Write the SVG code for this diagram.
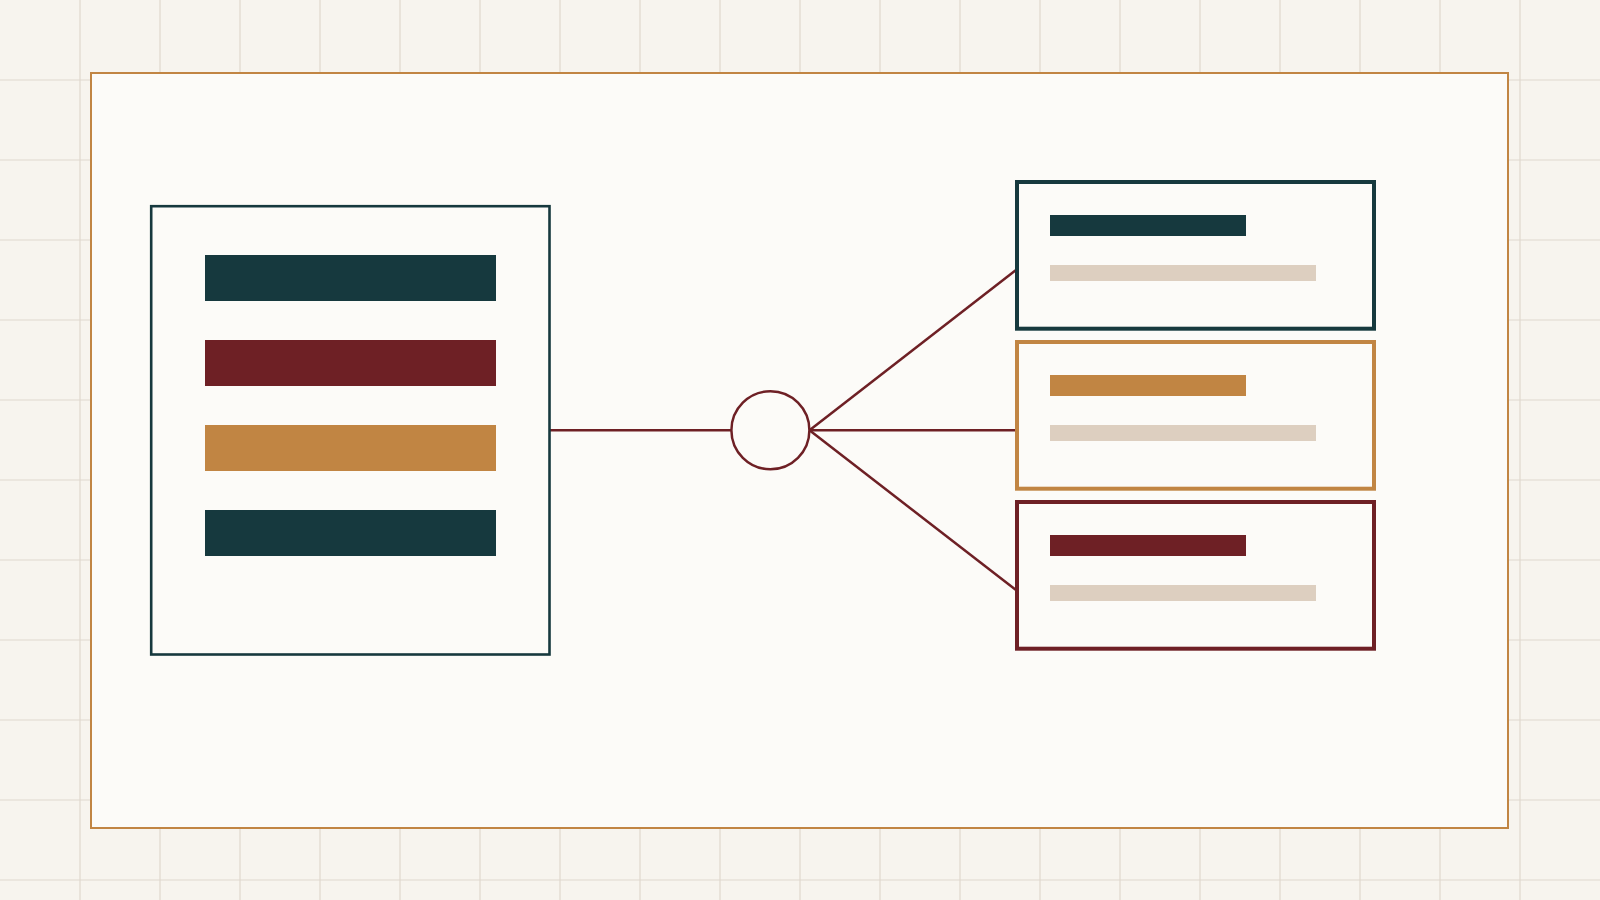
<svg xmlns="http://www.w3.org/2000/svg" width="1600" height="900" viewBox="0 0 1600 900">
  <style>
    .panel { fill: #FCFBF8; }
    .teal { fill: #16393E; }
    .maroon { fill: #6E2025; }
    .ochre { fill: #C18543; }
    .light { fill: #DDCFC0; }
    .conn { stroke: #6E2025; stroke-width: 2.5; fill: none; }
    .grid { stroke: #DFD8CE; stroke-width: 1.2; fill: none; }
  </style>
  <rect width="1600" height="900" fill="#F7F4EE"/>
  <path class="grid" d="M80 0V900M160 0V900M240 0V900M320 0V900M400 0V900M480 0V900M560 0V900M640 0V900M720 0V900M800 0V900M880 0V900M960 0V900M1040 0V900M1120 0V900M1200 0V900M1280 0V900M1360 0V900M1440 0V900M1520 0V900M0 80H1600M0 160H1600M0 240H1600M0 320H1600M0 400H1600M0 480H1600M0 560H1600M0 640H1600M0 720H1600M0 800H1600M0 880H1600"/>
  <g id="frame">
    <rect x="91" y="73" width="1417" height="755" class="panel" stroke="#C18543" stroke-width="2"/>
  </g>
  <g id="connectors">
    <line class="conn" x1="549" y1="430.3" x2="731" y2="430.3"/>
    <line class="conn" x1="809.5" y1="430.3" x2="1016" y2="270"/>
    <line class="conn" x1="809.5" y1="430.3" x2="1016" y2="430.3"/>
    <line class="conn" x1="809.5" y1="430.3" x2="1016" y2="590"/>
  </g>
  <g id="source">
    <rect x="151.2" y="206.2" width="398.3" height="448.3" class="panel" stroke="#16393E" stroke-width="2.6"/>
    <rect x="205" y="255" width="291" height="46" class="teal"/>
    <rect x="205" y="340" width="291" height="46" class="maroon"/>
    <rect x="205" y="425" width="291" height="46" class="ochre"/>
    <rect x="205" y="510" width="291" height="46" class="teal"/>
  </g>
  <g id="hub">
    <circle cx="770.4" cy="430.2" r="39" class="panel" stroke="#6E2025" stroke-width="2.5"/>
  </g>
  <g id="target-1">
    <rect x="1017" y="182" width="357" height="146.7" class="panel" stroke="#16393E" stroke-width="4"/>
    <rect x="1050" y="215" width="196" height="21" class="teal"/>
    <rect x="1050" y="265" width="266" height="16" class="light"/>
  </g>
  <g id="target-2">
    <rect x="1017" y="342" width="357" height="146.7" class="panel" stroke="#C18543" stroke-width="4"/>
    <rect x="1050" y="375" width="196" height="21" class="ochre"/>
    <rect x="1050" y="425" width="266" height="16" class="light"/>
  </g>
  <g id="target-3">
    <rect x="1017" y="502" width="357" height="146.7" class="panel" stroke="#6E2025" stroke-width="4"/>
    <rect x="1050" y="535" width="196" height="21" class="maroon"/>
    <rect x="1050" y="585" width="266" height="16" class="light"/>
  </g>
</svg>
